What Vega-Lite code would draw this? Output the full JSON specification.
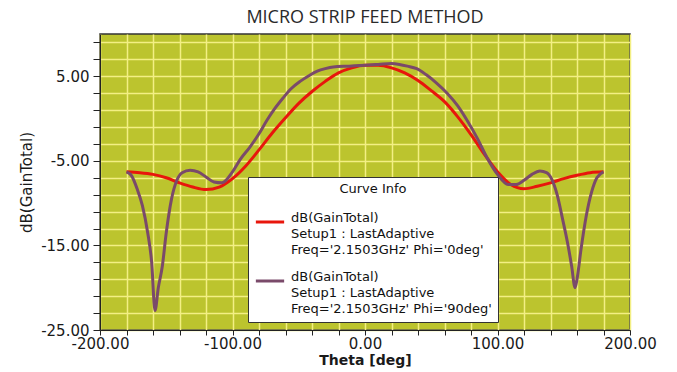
{
  "$schema": "https://vega.github.io/schema/vega-lite/v6.json",
  "width": 530,
  "height": 296,
  "autosize": {"type": "none"},
  "padding": {"left": 100, "top": 34, "right": 47, "bottom": 42},
  "background": "white",
  "title": {"text": "MICRO STRIP FEED METHOD", "font": "Open Sans", "fontSize": 18, "fontWeight": "normal", "color": "#2a2a2a", "offset": 7, "anchor": "middle"},
  "config": {
    "view": {"fill": "#bcc42e", "stroke": "#333333", "strokeWidth": 1.5},
    "style": {"guide-label": {"lineHeight": 16}}
  },
  "data": {"values": [
    {"phi": "0deg", "theta": -180, "gain": -6.3},
    {"phi": "0deg", "theta": -170, "gain": -6.4},
    {"phi": "0deg", "theta": -160, "gain": -6.6},
    {"phi": "0deg", "theta": -150, "gain": -7.0},
    {"phi": "0deg", "theta": -140, "gain": -7.6},
    {"phi": "0deg", "theta": -130, "gain": -8.1},
    {"phi": "0deg", "theta": -120, "gain": -8.4},
    {"phi": "0deg", "theta": -110, "gain": -8.1},
    {"phi": "0deg", "theta": -100, "gain": -7.1},
    {"phi": "0deg", "theta": -90, "gain": -5.6},
    {"phi": "0deg", "theta": -80, "gain": -3.7},
    {"phi": "0deg", "theta": -70, "gain": -1.7},
    {"phi": "0deg", "theta": -60, "gain": 0.1},
    {"phi": "0deg", "theta": -50, "gain": 1.8},
    {"phi": "0deg", "theta": -40, "gain": 3.2},
    {"phi": "0deg", "theta": -30, "gain": 4.4},
    {"phi": "0deg", "theta": -20, "gain": 5.4},
    {"phi": "0deg", "theta": -10, "gain": 6.0},
    {"phi": "0deg", "theta": 0, "gain": 6.3},
    {"phi": "0deg", "theta": 10, "gain": 6.3},
    {"phi": "0deg", "theta": 20, "gain": 6.0},
    {"phi": "0deg", "theta": 30, "gain": 5.4},
    {"phi": "0deg", "theta": 40, "gain": 4.5},
    {"phi": "0deg", "theta": 50, "gain": 3.3},
    {"phi": "0deg", "theta": 60, "gain": 2.0},
    {"phi": "0deg", "theta": 70, "gain": 0.2},
    {"phi": "0deg", "theta": 80, "gain": -1.9},
    {"phi": "0deg", "theta": 90, "gain": -4.2},
    {"phi": "0deg", "theta": 100, "gain": -6.3},
    {"phi": "0deg", "theta": 110, "gain": -7.8},
    {"phi": "0deg", "theta": 120, "gain": -8.3},
    {"phi": "0deg", "theta": 130, "gain": -8.0},
    {"phi": "0deg", "theta": 140, "gain": -7.6},
    {"phi": "0deg", "theta": 150, "gain": -7.1},
    {"phi": "0deg", "theta": 160, "gain": -6.7},
    {"phi": "0deg", "theta": 170, "gain": -6.4},
    {"phi": "0deg", "theta": 180, "gain": -6.3},
    {"phi": "90deg", "theta": -180, "gain": -6.3},
    {"phi": "90deg", "theta": -176, "gain": -6.8},
    {"phi": "90deg", "theta": -172, "gain": -8.3},
    {"phi": "90deg", "theta": -168, "gain": -10.3},
    {"phi": "90deg", "theta": -164, "gain": -13.5},
    {"phi": "90deg", "theta": -161, "gain": -17.0},
    {"phi": "90deg", "theta": -158.5, "gain": -22.7},
    {"phi": "90deg", "theta": -156, "gain": -20.0},
    {"phi": "90deg", "theta": -153, "gain": -17.5},
    {"phi": "90deg", "theta": -150, "gain": -13.5},
    {"phi": "90deg", "theta": -146, "gain": -9.5},
    {"phi": "90deg", "theta": -142, "gain": -7.3},
    {"phi": "90deg", "theta": -138, "gain": -6.4},
    {"phi": "90deg", "theta": -132, "gain": -6.1},
    {"phi": "90deg", "theta": -126, "gain": -6.3},
    {"phi": "90deg", "theta": -120, "gain": -6.9},
    {"phi": "90deg", "theta": -114, "gain": -7.5},
    {"phi": "90deg", "theta": -108, "gain": -7.6},
    {"phi": "90deg", "theta": -100, "gain": -6.3},
    {"phi": "90deg", "theta": -94, "gain": -4.8},
    {"phi": "90deg", "theta": -87, "gain": -3.4},
    {"phi": "90deg", "theta": -80, "gain": -1.8},
    {"phi": "90deg", "theta": -74, "gain": -0.2},
    {"phi": "90deg", "theta": -68, "gain": 1.2},
    {"phi": "90deg", "theta": -62, "gain": 2.4},
    {"phi": "90deg", "theta": -56, "gain": 3.5},
    {"phi": "90deg", "theta": -49, "gain": 4.4},
    {"phi": "90deg", "theta": -42, "gain": 5.1},
    {"phi": "90deg", "theta": -36, "gain": 5.6},
    {"phi": "90deg", "theta": -30, "gain": 5.9},
    {"phi": "90deg", "theta": -24, "gain": 6.1},
    {"phi": "90deg", "theta": -12, "gain": 6.2},
    {"phi": "90deg", "theta": 0, "gain": 6.3},
    {"phi": "90deg", "theta": 10, "gain": 6.4},
    {"phi": "90deg", "theta": 20, "gain": 6.5},
    {"phi": "90deg", "theta": 26, "gain": 6.4},
    {"phi": "90deg", "theta": 32, "gain": 6.2},
    {"phi": "90deg", "theta": 39, "gain": 5.9},
    {"phi": "90deg", "theta": 46, "gain": 5.2},
    {"phi": "90deg", "theta": 54, "gain": 4.2},
    {"phi": "90deg", "theta": 62, "gain": 3.0},
    {"phi": "90deg", "theta": 70, "gain": 1.5},
    {"phi": "90deg", "theta": 77, "gain": -0.2},
    {"phi": "90deg", "theta": 85, "gain": -2.4},
    {"phi": "90deg", "theta": 92, "gain": -4.6},
    {"phi": "90deg", "theta": 100, "gain": -6.6},
    {"phi": "90deg", "theta": 108, "gain": -7.8},
    {"phi": "90deg", "theta": 114, "gain": -7.8},
    {"phi": "90deg", "theta": 120, "gain": -7.3},
    {"phi": "90deg", "theta": 126, "gain": -6.6},
    {"phi": "90deg", "theta": 132, "gain": -6.2},
    {"phi": "90deg", "theta": 137, "gain": -6.4},
    {"phi": "90deg", "theta": 141, "gain": -7.2},
    {"phi": "90deg", "theta": 145, "gain": -9.0},
    {"phi": "90deg", "theta": 149, "gain": -11.8},
    {"phi": "90deg", "theta": 153, "gain": -14.8},
    {"phi": "90deg", "theta": 156, "gain": -17.5},
    {"phi": "90deg", "theta": 158.5, "gain": -20.0},
    {"phi": "90deg", "theta": 160, "gain": -19.0},
    {"phi": "90deg", "theta": 163, "gain": -15.5},
    {"phi": "90deg", "theta": 167, "gain": -11.5},
    {"phi": "90deg", "theta": 171, "gain": -8.7},
    {"phi": "90deg", "theta": 175, "gain": -7.0},
    {"phi": "90deg", "theta": 180, "gain": -6.3}
  ]},
  "mark": {"type": "line", "strokeWidth": 3, "interpolate": "monotone"},
  "encoding": {
    "x": {
      "field": "theta", "type": "quantitative",
      "scale": {"domain": [-200, 200], "nice": false, "zero": false},
      "axis": {
        "values": [-200, -180, -160, -140, -120, -100, -80, -60, -40, -20, 0, 20, 40, 60, 80, 100, 120, 140, 160, 180, 200],
        "grid": true, "gridColor": "#f3ef84", "gridWidth": 1.5, "gridOpacity": 1,
        "tickSize": 5, "tickColor": "#222222", "domainColor": "#222222",
        "labelFont": "DejaVu Sans", "labelFontSize": 15, "labelColor": "#1a1a1a", "labelPadding": 1,
        "labelFlush": false, "labelOverlap": false,
        "labelExpr": "datum.value % 100 === 0 ? replace(format(datum.value, '.2f'), '−', '-') : ''",
        "title": "Theta [deg]", "titleFont": "DejaVu Sans", "titleFontSize": 14, "titleFontWeight": "bold", "titleColor": "#1a1a1a", "titlePadding": 2
      }
    },
    "y": {
      "field": "gain", "type": "quantitative",
      "scale": {"domain": [-25, 10], "nice": false, "zero": false},
      "axis": {
        "values": [-25, -23, -21, -19, -17, -15, -13, -11, -9, -7, -5, -3, -1, 1, 3, 5, 7, 9],
        "grid": true, "gridColor": "#f3ef84", "gridWidth": 1.5, "gridOpacity": 1,
        "tickSize": 7, "tickColor": "#222222", "domainColor": "#222222",
        "labelFont": "DejaVu Sans", "labelFontSize": 15, "labelColor": "#1a1a1a", "labelPadding": 4,
        "labelOverlap": false,
        "labelExpr": "(datum.value + 25) % 10 === 0 ? replace(format(datum.value, '.2f'), '−', '-') : ''",
        "title": "dB(GainTotal)", "titleFont": "DejaVu Sans", "titleFontSize": 15, "titleFontWeight": "normal", "titleColor": "#1a1a1a", "titlePadding": 6
      }
    },
    "color": {
      "field": "phi", "type": "nominal",
      "scale": {"domain": ["0deg", "90deg"], "range": ["#e8160c", "#7a4a6a"]},
      "legend": {
        "orient": "none", "legendX": 148, "legendY": 143,
        "title": "Curve Info", "titleFont": "DejaVu Sans", "titleFontSize": 13, "titleFontWeight": "normal", "titleColor": "#111111",
        "titleAnchor": "middle", "titleAlign": "center", "titlePadding": 10,
        "fillColor": "white", "strokeColor": "#333333", "padding": 6,
        "symbolType": "stroke", "symbolSize": 800, "symbolStrokeWidth": 3, "labelOffset": 5,
        "labelFont": "DejaVu Sans", "labelFontSize": 13, "labelColor": "#111111", "labelLimit": 0,
        "labelBaseline": "alphabetic", "rowPadding": 8,
        "labelExpr": "datum.label === '0deg' ? ['dB(GainTotal)', 'Setup1 : LastAdaptive', \"Freq='2.1503GHz' Phi='0deg'\"] : ['dB(GainTotal)', 'Setup1 : LastAdaptive', \"Freq='2.1503GHz' Phi='90deg'\"]"
      }
    }
  }
}
